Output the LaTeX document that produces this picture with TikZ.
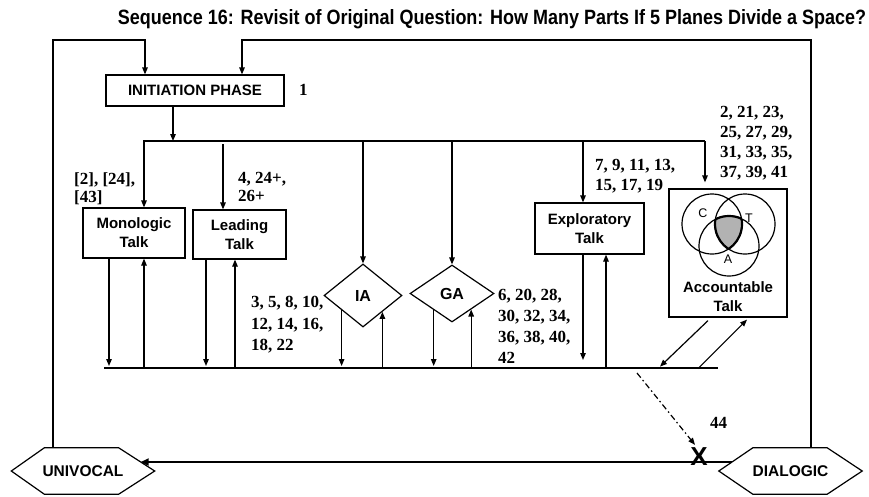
\documentclass[tikz,border=0pt]{standalone}
\usepackage{graphicx}
\usepackage{fontspec}
\setmainfont{Liberation Serif}
\setsansfont{Liberation Sans}
\usetikzlibrary{arrows.meta,calc,shapes.geometric}
\begin{document}
\begin{tikzpicture}[x=1pt,y=-1pt,
  lw/.style={line width=1.2pt},
  arr/.style={lw,-{Triangle[length=7pt,width=5.5pt]}},
  tbox/.style={draw,lw,rectangle,inner sep=0pt,align=center,font=\sffamily\bfseries\fontsize{15}{19}\selectfont},
  dmd/.style={draw,lw,diamond,inner sep=0pt,font=\sffamily\bfseries\fontsize{16}{19}\selectfont},
  lbl/.style={inner sep=0pt,anchor=north west,align=left,font=\rmfamily\bfseries\fontsize{17}{20.5}\selectfont},
  hexnode/.style={inner sep=0pt,minimum width=143pt,minimum height=46pt,font=\sffamily\bfseries\fontsize{15.5}{18}\selectfont},
  venn/.style={font=\sffamily\fontsize{12.5}{14}\selectfont,inner sep=0pt},
]
\useasboundingbox[fill=white] (0,0) rectangle (869,496);

% title
\node[anchor=base,inner sep=0pt] (title) at (492,24) {\resizebox{748pt}{15pt}{\sffamily\bfseries Sequence 16: Revisit of Original Question: How Many Parts If 5 Planes Divide a Space?}};

% main nodes
\node[tbox,minimum width=178pt,minimum height=31pt] (init) at (195,90.5) {INITIATION PHASE};
\node[lbl,anchor=west] (n1) at (299,90) {1};
\node[tbox,minimum width=102pt,minimum height=50pt] (mono) at (134,233) {Monologic\\Talk};
\node[tbox,minimum width=93pt,minimum height=49pt] (lead) at (239.5,234.5) {Leading\\Talk};
\node[dmd,minimum width=78pt,minimum height=63pt] (ia) at (363,295.5) {IA};
\node[dmd,minimum width=84pt,minimum height=57pt] (ga) at (452,293.5) {GA};
\node[tbox,minimum width=109pt,minimum height=51pt] (expl) at (589.5,228.5) {Exploratory\\Talk};
\node[draw,lw,minimum width=118pt,minimum height=128pt,inner sep=0pt] (acc) at (728,253) {};
\node[tbox,draw=none] (acct) at (728,296.5) {Accountable\\Talk};

% hexagons
\node[hexnode] (univ) at (83,471) {UNIVOCAL};
\draw[lw] (univ.west) -- ($(univ.north west)+(33,0)$) -- ($(univ.north east)+(-36,0)$) -- (univ.east) -- ($(univ.south east)+(-36,0)$) -- ($(univ.south west)+(33,0)$) -- cycle;
\node[hexnode] (dial) at (790.5,471) {DIALOGIC};
\draw[lw] (dial.west) -- ($(dial.north west)+(34,0)$) -- ($(dial.north east)+(-35,0)$) -- (dial.east) -- ($(dial.south east)+(-35,0)$) -- ($(dial.south west)+(34,0)$) -- cycle;

% labels
\node[lbl,font=\rmfamily\bfseries\fontsize{17}{18}\selectfont] (l1) at (74,172) {[2], [24],\\{[43]}};
\node[lbl,font=\rmfamily\bfseries\fontsize{17}{18}\selectfont] (l2) at (238,172) {4, 24+,\\26+};
\node[lbl,font=\rmfamily\bfseries\fontsize{17}{21.5}\selectfont] (l3) at (251,296) {3, 5, 8, 10,\\12, 14, 16,\\18, 22};
\node[lbl,font=\rmfamily\bfseries\fontsize{17}{21}\selectfont] (l4) at (498,289) {6, 20, 28,\\30, 32, 34,\\36, 38, 40,\\42};
\node[lbl,font=\rmfamily\bfseries\fontsize{17}{20}\selectfont] (l5) at (595,159) {7, 9, 11, 13,\\15, 17, 19};
\node[lbl,font=\rmfamily\bfseries\fontsize{17}{20}\selectfont] (l6) at (720,106) {2, 21, 23,\\25, 27, 29,\\31, 33, 35,\\37, 39, 41};
\node[lbl,anchor=west] (l44) at (710,423) {44};

% frame
\coordinate (tl) at (53,40);
\coordinate (tr) at (811,40);
\coordinate (initL) at ($(init.north)+(-50,0)$);
\coordinate (initR) at ($(init.north)+(47,0)$);
\draw[arr] (univ.north -| tl) -- (tl) -| (initL);
\draw[arr] (dial.north -| tr) -- (tr) -| (initR);

% top bus
\coordinate (busL) at (144,141);
\coordinate (busR) at (705,141);
\coordinate (ib) at ($(init.south)+(-22,0)$);
\draw[arr] (ib) -- (ib |- busL);
\draw[arr] (busR) -- (busL) -- (busL |- mono.north);
\coordinate (ld) at ($(lead.north)+(-16.5,0)$);
\draw[arr] ($(ld |- busL)+(0,3)$) -- (ld);
\draw[arr] (ia.north |- busL) -- (ia.north);
\draw[arr] (ga.north |- busL) -- (ga.north);
\coordinate (ex) at ($(expl.north)+(-6.5,0)$);
\draw[arr] (ex |- busL) -- (ex);
\draw[arr,shorten >=6pt] (busR) -- (busR |- acc.north);

% bottom bus
\coordinate (bl) at (104,368);
\coordinate (br) at (718,368);
\draw[line width=2.2pt] (bl) -- (br);

\coordinate (m1) at ($(mono.south)+(-25,0)$);
\coordinate (m2) at ($(mono.south)+(10,0)$);
\draw[arr,shorten >=2pt] (m1) -- (m1 |- bl);
\draw[arr] (m2 |- bl) -- (m2);
\coordinate (e1) at ($(lead.south)+(-33.5,0)$);
\coordinate (e2) at ($(lead.south)+(-4.5,0)$);
\draw[arr,shorten >=2pt] (e1) -- (e1 |- bl);
\draw[arr] (e2 |- bl) -- (e2);
\coordinate (i1) at ($(ia.west)!0.46!(ia.south)$);
\coordinate (i2) at ($(ia.south)!0.49!(ia.east)$);
\draw[arr,shorten >=2pt] (i1) -- (i1 |- bl);
\draw[arr] (i2 |- bl) -- (i2);
\coordinate (g1) at ($(ga.west)!0.57!(ga.south)$);
\coordinate (g2) at ($(ga.south)!0.45!(ga.east)$);
\draw[arr,shorten >=2pt] (g1) -- (g1 |- bl);
\draw[arr] (g2 |- bl) -- (g2);
\coordinate (x1) at ($(expl.south)+(-6.5,0)$);
\coordinate (x2) at ($(expl.south)+(16.5,0)$);
\draw[arr,shorten >=8pt] (x1) -- (x1 |- bl);
\draw[arr] (x2 |- bl) -- (x2);
\draw[arr] ($(acc.south)+(-20,3)$) -- ($(acc.south)+(-68,49)$);
\draw[arr] ($(acc.south)+(-30,51)$) -- ($(acc.south)+(19,2)$);

% Venn diagram
\begin{scope}
  \clip (712,224) circle[radius=30pt];
  \clip (745,224) circle[radius=30pt];
  \fill[gray!60] (729,246) circle[radius=30pt];
\end{scope}
\draw[lw] (712,224) circle[radius=30pt];
\draw[lw] (745,224) circle[radius=30pt];
\draw[lw] (729,246) circle[radius=30pt];
\begin{scope}
  \clip (712,224) circle[radius=30pt];
  \clip (745,224) circle[radius=30pt];
  \draw[line width=2.2pt] (729,246) circle[radius=30pt];
\end{scope}
\begin{scope}
  \clip (729,246) circle[radius=30pt];
  \clip (745,224) circle[radius=30pt];
  \draw[line width=2.2pt] (712,224) circle[radius=30pt];
\end{scope}
\begin{scope}
  \clip (729,246) circle[radius=30pt];
  \clip (712,224) circle[radius=30pt];
  \draw[line width=2.2pt] (745,224) circle[radius=30pt];
\end{scope}
\node[venn] (vc) at (703,213) {C};
\node[venn] (vt) at (749,218) {T};
\node[venn] (va) at (728,259) {A};

% continuum line and dash-dot arrow
\draw[line width=2.6pt,-{Triangle[length=8pt,width=7pt]}] ($(dial.west)+(13.3,-9)$) -- ($(univ.east)+(-14,-9)$);
\node[inner sep=0pt,font=\sffamily\bfseries\fontsize{26}{28}\selectfont] (xm) at (699,457) {X};
\coordinate (dd) at (637,373);
\draw[arr,dash pattern=on 6pt off 3pt on 1.5pt off 3pt] (dd) -- ($(xm.north)+(-4,-3)$);
\end{tikzpicture}
\end{document}
